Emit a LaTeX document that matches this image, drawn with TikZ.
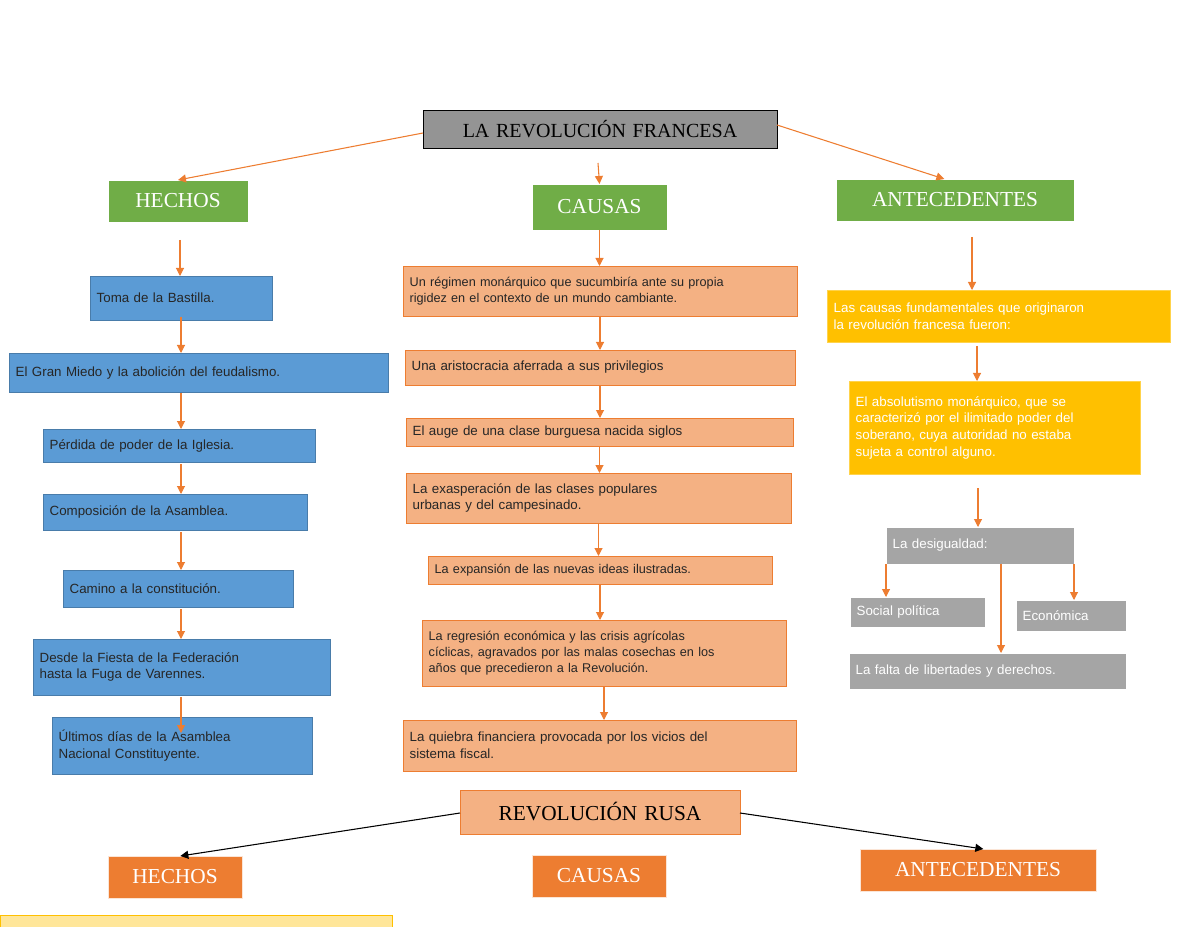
\documentclass[tikz,border=0pt]{standalone}
\usepackage{fontspec}
\setmainfont{Liberation Sans}
\newfontfamily\serif{Liberation Serif}
\usetikzlibrary{arrows.meta}
\definecolor{org}{HTML}{ED7D31}
\definecolor{grn}{HTML}{70AD47}
\definecolor{blu}{HTML}{5B9BD5}
\definecolor{sal}{HTML}{F4B183}
\definecolor{yel}{HTML}{FFC000}
\definecolor{gry}{HTML}{A5A5A5}
\newcommand\bx[7]{\pgfmathsetmacro\bw{(#5-#3)*0.75}\pgfmathsetmacro\bh{(#6-#4)*0.75}\pgfmathsetmacro\tw{\bw-10}%
\node[#2,anchor=north west,minimum width=\bw pt,minimum height=\bh pt,text width=\tw pt,inner xsep=5pt,inner ysep=1pt,outer sep=0pt] (#1) at (#3,#4) {#7};}
\tikzset{
 body/.style={font=\fontsize{10}{12.5}\selectfont,align=left},
 ttl/.style={font=\serif\fontsize{16}{18}\selectfont,align=center,text=white},
 green/.style={ttl,fill=grn,draw=white},
 orng/.style={ttl,fill=org,draw=white!80!org},
 blue/.style={body,fill=blu,draw=blu!80!black,text=black!85},
 salm/.style={body,fill=sal,draw=org,text=black!85},
 yelo/.style={body,fill=yel,draw=yel!70!white,text=white},
 gray/.style={body,fill=gry,draw=white,text=white},
 arr/.style={draw=org,thick,-{Triangle[length=6pt,width=6pt]}},
 barr/.style={draw=black,thick,-{Triangle[length=6pt,width=6pt]}},
}
\begin{document}
\begin{tikzpicture}[x=0.75pt,y=-0.75pt]
\useasboundingbox (0,0) rectangle (1200,927);
\bx{top}{fill=gry!90!black,draw=black,font=\serif\fontsize{15}{17}\selectfont,align=center,text=black}{423}{110}{777}{148}{LA REVOLUCIÓN FRANCESA}
\bx{h}{green}{108}{180}{248}{222}{HECHOS}
\bx{c}{green}{532}{184}{667}{230}{CAUSAS}
\bx{a}{green}{836}{179}{1074}{221}{ANTECEDENTES}
% left
\bx{l1}{blue}{90}{276}{272}{320}{Toma de la Bastilla.}
\bx{l2}{blue}{9}{353}{388}{392}{El Gran Miedo y la abolición del feudalismo.}
\bx{l3}{blue}{43}{429}{315}{462}{Pérdida de poder de la Iglesia.}
\bx{l4}{blue}{43}{494}{307}{530}{Composición de la Asamblea.}
\bx{l5}{blue}{63}{570}{293}{607}{Camino a la constitución.}
\bx{l6}{blue}{33}{639}{330}{695}{Desde la Fiesta de la Federación\\hasta la Fuga de Varennes.}
\bx{l7}{blue}{52}{717}{312}{774}{Últimos días de la Asamblea\\Nacional Constituyente.}
% middle
\bx{m1}{salm,font=\fontsize{9.5}{12}\selectfont}{403}{266}{797}{316}{Un régimen monárquico que sucumbiría ante su propia\\rigidez en el contexto de un mundo cambiante.}
\bx{m2}{salm}{405}{350}{795}{385}{Una aristocracia aferrada a sus privilegios}
\bx{m3}{salm}{406}{418}{793}{446}{El auge de una clase burguesa nacida siglos}
\bx{m4}{salm}{406}{473}{791}{523}{La exasperación de las clases populares\\urbanas y del campesinado.}
\bx{m5}{salm,font=\fontsize{9.5}{12}\selectfont}{428}{556}{772}{584}{La expansión de las nuevas ideas ilustradas.}
\bx{m6}{salm,font=\fontsize{9.5}{12}\selectfont}{422}{620}{786}{686}{La regresión económica y las crisis agrícolas\\cíclicas, agravados por las malas cosechas en los\\años que precedieron a la Revolución.}
\bx{m7}{salm}{403}{720}{796}{771}{La quiebra financiera provocada por los vicios del\\sistema fiscal.}
% right
\bx{r1}{yelo}{827}{290}{1170}{342}{Las causas fundamentales que originaron\\la revolución francesa fueron:}
\bx{r2}{yelo}{849}{381}{1140}{474}{El absolutismo monárquico, que se\\caracterizó por el ilimitado poder del\\soberano, cuya autoridad no estaba\\sujeta a control alguno.}
\bx{g1}{gray}{886}{527}{1074}{564}{La desigualdad:}
\bx{g2}{gray}{850}{597}{985}{627}{Social política}
\bx{g3}{gray}{1016}{600}{1126}{631}{Económica}
\bx{g4}{gray}{849}{653}{1126}{689}{La falta de libertades y derechos.}
% bottom
\bx{rr}{fill=sal,draw=org,font=\serif\fontsize{16}{18}\selectfont,align=center,text=black}{460}{790}{740}{834}{REVOLUCIÓN RUSA}
\bx{bh}{orng}{108}{856}{242}{898}{HECHOS}
\bx{bc}{orng}{532}{855}{666}{897}{CAUSAS}
\bx{ba}{orng}{860}{849}{1096}{891}{ANTECEDENTES}
\node[fill=yel!40!white,draw=yel,anchor=north west,minimum width=294pt,minimum height=12pt,inner sep=0pt] (yb) at (0,915) {};
% arrows top
\coordinate (ct) at (598,163);
\draw[arr] (top.west) ++(0,4) -- (h.north);
\draw[arr] (ct) -- (c.north);
\draw[arr] (top.east) ++(0,-4) -- ([xshift=-8pt]a.north);
% left chain
\coordinate (hs) at (180,240);
\coordinate (p3) at (181,393);
\coordinate (p4) at (181,464);
\coordinate (p5) at (181,532);
\coordinate (p6) at (181,609);
\coordinate (p7) at (181,697);
\coordinate (q7) at (181,733);
\draw[arr] (hs) -- (hs |- l1.north);
\draw[arr] (l1.south) ++(0,-3) -- (l1.south |- l2.north);
\draw[arr] (p3) -- (p3 |- l3.north);
\draw[arr] (p4) -- (p4 |- l4.north);
\draw[arr] (p5) -- (p5 |- l5.north);
\draw[arr] (p6) -- (p6 |- l6.north);
\draw[arr] (p7) -- (q7);
% middle chain
\draw[arr] (c.south) -- (c.south |- m1.north);
\draw[arr] (m1.south) -- (m1.south |- m2.north);
\draw[arr] (m2.south) -- (m2.south |- m3.north);
\draw[arr] (m3.south) -- (m3.south |- m4.north);
\draw[arr] (m4.south) -- (m4.south |- m5.north);
\draw[arr] (m5.south) -- (m5.south |- m6.north);
\draw[arr] (m6.south) -- (m6.south |- m7.north);
% right
\coordinate (as) at (972,237);
\coordinate (r1s) at (977,346);
\coordinate (r2s) at (978,488);
\coordinate (g1m) at (1001,564);
\draw[arr] (as) -- (as |- r1.north);
\draw[arr] (r1s) -- (r1s |- r2.north);
\draw[arr] (r2s) -- (r2s |- g1.north);
\draw[arr] (g1.south west) -- (g1.south west |- g2.north);
\draw[arr] (g1m) -- (g1m |- g4.north);
\draw[arr] (g1.south east) -- (g1.south east |- g3.north);
% bottom
\draw[barr] (rr.west) ++(0,1) -- ([xshift=4pt]bh.north);
\draw[barr] (rr.east) ++(0,1) -- ([xshift=4pt]ba.north);
\end{tikzpicture}
\end{document}
